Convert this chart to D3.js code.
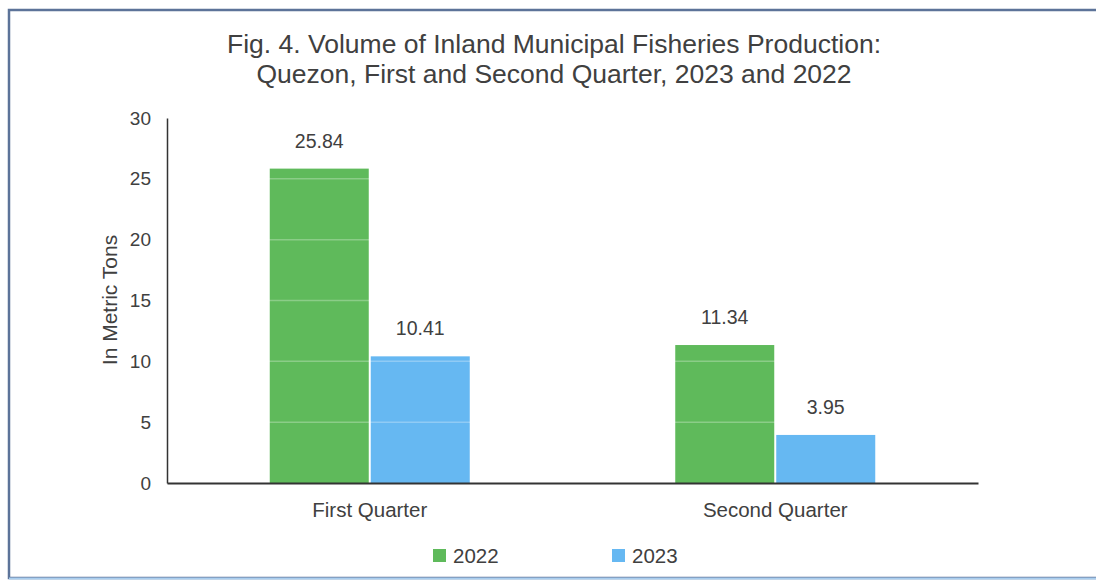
<!DOCTYPE html>
<html><head><meta charset="utf-8">
<script src="https://cdn.jsdelivr.net/npm/d3@7"></script>
<style>body{margin:0;background:#fff}svg{display:block}</style>
</head><body><svg id="c" width="1096" height="580"></svg>
<script>
const categories = ["First Quarter", "Second Quarter"];
const seriesNames = ["2022", "2023"];
const values2022 = [25.84, 11.34];
const values2023 = [10.41, 3.95];
const yTicks = [0, 5, 10, 15, 20, 25, 30];
const titleLines = ["Fig. 4. Volume of Inland Municipal Fisheries Production:", "Quezon, First and Second Quarter, 2023 and 2022"];
const colors = ["#5fba5b", "#66b8f2"];

const svg = d3.select("#c");
const font = "Liberation Sans, Arial, sans-serif";
const txt = "#404040";

// frame
svg.append("rect").attr("x", 9).attr("y", 10).attr("width", 1100).attr("height", 568)
  .attr("fill", "#fff").attr("stroke", "#5c7399").attr("stroke-width", 2.5);
svg.append("line").attr("x1", 9).attr("x2", 1096).attr("y1", 578.5).attr("y2", 578.5)
  .attr("stroke", "#a9cdee").attr("stroke-width", 2);

const m = {l: 167, r: 978, t: 118, b: 483};
const x0 = d3.scaleBand().domain(categories).range([m.l, m.r]).paddingInner(0).paddingOuter(0);
const y = d3.scaleLinear().domain([0, 30]).range([m.b, m.t]);

const barW = 99, gap = 2;
const data = categories.map((c, i) => ({cat: c, vals: [values2022[i], values2023[i]]}));

const g = svg.append("g");
data.forEach(d => {
  const cx = x0(d.cat) + x0.bandwidth() / 2;
  d.vals.forEach((v, j) => {
    const bx = j === 0 ? cx - barW - gap / 2 : cx + gap / 2;
    g.append("rect").attr("x", bx).attr("y", y(v)).attr("width", barW).attr("height", y(0) - y(v))
      .attr("fill", colors[j]);
    g.append("text").attr("x", bx + barW / 2).attr("y", y(v) - 21)
      .attr("text-anchor", "middle").attr("font-family", font).attr("font-size", 19.5)
      .attr("fill", txt).text(v.toFixed(2));
  });
});

// faint gridlines (visible over bars only)
svg.append("g").selectAll("line").data(yTicks.filter(t => t > 0)).join("line")
  .attr("x1", m.l).attr("x2", m.r).attr("y1", d => y(d)).attr("y2", d => y(d))
  .attr("stroke", "#ffffff").attr("stroke-opacity", 0.28).attr("stroke-width", 1.5);

// y axis
const ya = svg.append("g").attr("transform", `translate(${m.l},0)`)
  .call(d3.axisLeft(y).tickValues(yTicks).tickSize(0).tickPadding(16));
ya.select(".domain").attr("stroke", "#333").attr("stroke-width", 1.5);
ya.selectAll("text").attr("font-family", font).attr("font-size", 19).attr("fill", txt);

// x axis
const xa = svg.append("g").attr("transform", `translate(0,${m.b})`)
  .call(d3.axisBottom(x0).tickSize(0).tickPadding(19));
xa.select(".domain").attr("stroke", "#333").attr("stroke-width", 2);
xa.selectAll("text").attr("font-family", font).attr("font-size", 20.5).attr("fill", txt);

// y label
svg.append("text").attr("transform", "translate(117,300) rotate(-90)")
  .attr("text-anchor", "middle").attr("font-family", font).attr("font-size", 21)
  .attr("fill", txt).text("In Metric Tons");

// title
svg.append("g").selectAll("text").data(titleLines).join("text")
  .attr("x", 554).attr("y", (d, i) => 53 + i * 30).attr("text-anchor", "middle")
  .attr("font-family", font).attr("font-size", 26.5).attr("fill", txt).text(d => d);

// legend
const leg = svg.append("g");
const lx = [433, 612];
seriesNames.forEach((s, i) => {
  leg.append("rect").attr("x", lx[i]).attr("y", 549).attr("width", 13).attr("height", 13).attr("fill", colors[i]);
  leg.append("text").attr("x", lx[i] + 20).attr("y", 563).attr("font-family", font).attr("font-size", 20.5)
    .attr("fill", txt).text(s);
});
</script></body></html>
